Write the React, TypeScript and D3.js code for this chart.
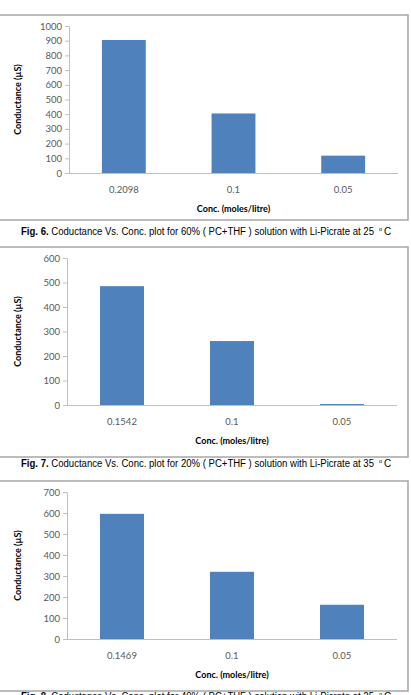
import React, { useEffect, useRef } from 'react';
import { axisLeft, scaleBand, scaleLinear, select } from 'd3';

// Fig. 6 – 60 % (PC+THF), 25 °C
const concFig6 = ['0.2098', '0.1', '0.05'];
const condFig6 = [905, 405, 118];
const ticksFig6 = [0, 100, 200, 300, 400, 500, 600, 700, 800, 900, 1000];

// Fig. 7 – 20 % (PC+THF), 35 °C
const concFig7 = ['0.1542', '0.1', '0.05'];
const condFig7 = [485, 261, 4];
const ticksFig7 = [0, 100, 200, 300, 400, 500, 600];

// Fig. 8 – 40 % (PC+THF), 25 °C
const concFig8 = ['0.1469', '0.1', '0.05'];
const condFig8 = [596, 320, 163];
const ticksFig8 = [0, 100, 200, 300, 400, 500, 600, 700];

const captionFig6 = ['Fig. 6.', ' Coductance Vs. Conc. plot for 60% ( PC+THF ) solution with Li-Picrate at 25', 'o', 'C'];
const captionFig7 = ['Fig. 7.', ' Coductance Vs. Conc. plot for 20% ( PC+THF ) solution with Li-Picrate at 35', 'o', 'C'];
const captionFig8 = ['Fig. 8.', ' Coductance Vs. Conc. plot for 40% ( PC+THF ) solution with Li-Picrate at 25', 'o', 'C'];

const W = 411;
const H = 695;
const FONT = 'Lato, "Open Sans", sans-serif';
const CAP_FONT = '"Liberation Sans", Arial, sans-serif';

interface PanelProps {
  top: number;
  bottom: number;
  plotLeft: number;
  plotRight: number;
  categories: string[];
  values: number[];
  ticks: number[];
  caption: string[];
  captionY: number;
}

const Panel = ({ top, bottom, plotLeft, plotRight, categories, values, ticks, caption, captionY }: PanelProps) => {
  const gRef = useRef<SVGGElement | null>(null);

  useEffect(() => {
    const g = select(gRef.current);
    g.selectAll('*').remove();

    const plotTop = top + 11;
    const plotBottom = top + 158;

    // chart frame
    g.append('rect')
      .attr('x', -1)
      .attr('y', top)
      .attr('width', 409)
      .attr('height', bottom - top)
      .attr('fill', '#fff')
      .attr('stroke', '#a6a6a6')
      .attr('stroke-width', 1.5);

    const x = scaleBand()
      .domain(categories)
      .range([plotLeft, plotRight])
      .paddingInner(0.6)
      .paddingOuter(0.3);

    const y = scaleLinear()
      .domain([0, ticks[ticks.length - 1]])
      .range([plotBottom, plotTop]);

    // y axis
    const yAxis = g
      .append('g')
      .attr('transform', `translate(${plotLeft},0)`)
      .call(
        axisLeft(y)
          .tickValues(ticks)
          .tickFormat((d) => String(d))
          .tickSize(4)
          .tickPadding(3)
          .tickSizeOuter(0)
      );
    yAxis.select('.domain').attr('stroke', '#bfbfbf');
    yAxis.selectAll('.tick line').attr('stroke', '#bfbfbf');
    yAxis
      .selectAll('.tick text')
      .attr('fill', '#595959')
      .style('font-family', FONT)
      .style('font-size', '9.5px');

    // bars
    g.selectAll('.bar')
      .data(values)
      .enter()
      .append('rect')
      .attr('class', 'bar')
      .attr('x', (_d, i) => x(categories[i]) ?? 0)
      .attr('y', (d) => y(d))
      .attr('width', x.bandwidth())
      .attr('height', (d) => plotBottom - y(d))
      .attr('fill', '#4f81bd');

    // x baseline
    g.append('line')
      .attr('x1', plotLeft)
      .attr('x2', plotRight)
      .attr('y1', plotBottom + 0.5)
      .attr('y2', plotBottom + 0.5)
      .attr('stroke', '#bfbfbf');

    // category labels
    g.selectAll('.cat')
      .data(categories)
      .enter()
      .append('text')
      .attr('class', 'cat')
      .attr('x', (d) => (x(d) ?? 0) + x.bandwidth() / 2)
      .attr('y', plotBottom + 20)
      .attr('text-anchor', 'middle')
      .attr('fill', '#595959')
      .style('font-family', FONT)
      .style('font-size', '9.5px')
      .text((d) => d);

    // axis titles
    g.append('text')
      .attr('x', (plotLeft + plotRight) / 2)
      .attr('y', plotBottom + 39)
      .attr('text-anchor', 'middle')
      .attr('fill', '#000')
      .style('font-family', FONT)
      .style('font-weight', 'bold')
      .style('font-size', '9px')
      .text('Conc. (moles/litre)');

    g.append('text')
      .attr('transform', `translate(21,${(plotTop + plotBottom) / 2}) rotate(-90)`)
      .attr('text-anchor', 'middle')
      .attr('fill', '#000')
      .style('font-family', FONT)
      .style('font-weight', 'bold')
      .style('font-size', '9px')
      .text('Conductance (µS)');

    // figure caption: main line, then a small raised "o" and the "C"
    const capLeft = 21;
    const capMainWidth = 353;
    const cap = g
      .append('text')
      .attr('x', capLeft)
      .attr('y', captionY)
      .attr('textLength', capMainWidth)
      .attr('lengthAdjust', 'spacingAndGlyphs')
      .style('font-family', CAP_FONT)
      .style('font-size', '10px')
      .attr('fill', '#000');
    cap.append('tspan').style('font-weight', 'bold').text(caption[0]);
    cap.append('tspan').text(caption[1]);
    const capEnd = capLeft + capMainWidth;

    g.append('text')
      .attr('x', capEnd + 5)
      .attr('y', captionY - 4.5)
      .style('font-family', CAP_FONT)
      .style('font-size', '5.5px')
      .attr('fill', '#000')
      .text(caption[2]);

    g.append('text')
      .attr('x', capEnd + 10)
      .attr('y', captionY)
      .style('font-family', CAP_FONT)
      .style('font-size', '10px')
      .attr('fill', '#000')
      .text(caption[3]);
  }, [top, bottom, plotLeft, plotRight, categories, values, ticks, caption, captionY]);

  return <g ref={gRef} />;
};

export default function App() {
  return (
    <svg
      width={W}
      height={H}
      style={{ position: 'absolute', left: 0, top: 0, background: '#fff' }}
    >
      <Panel
        top={15}
        bottom={220}
        plotLeft={69}
        plotRight={398}
        categories={concFig6}
        values={condFig6}
        ticks={ticksFig6}
        caption={captionFig6}
        captionY={235}
      />
      <Panel
        top={247}
        bottom={457}
        plotLeft={67}
        plotRight={397}
        categories={concFig7}
        values={condFig7}
        ticks={ticksFig7}
        caption={captionFig7}
        captionY={467}
      />
      <Panel
        top={481}
        bottom={691}
        plotLeft={67}
        plotRight={397}
        categories={concFig8}
        values={condFig8}
        ticks={ticksFig8}
        caption={captionFig8}
        captionY={700}
      />
    </svg>
  );
}
